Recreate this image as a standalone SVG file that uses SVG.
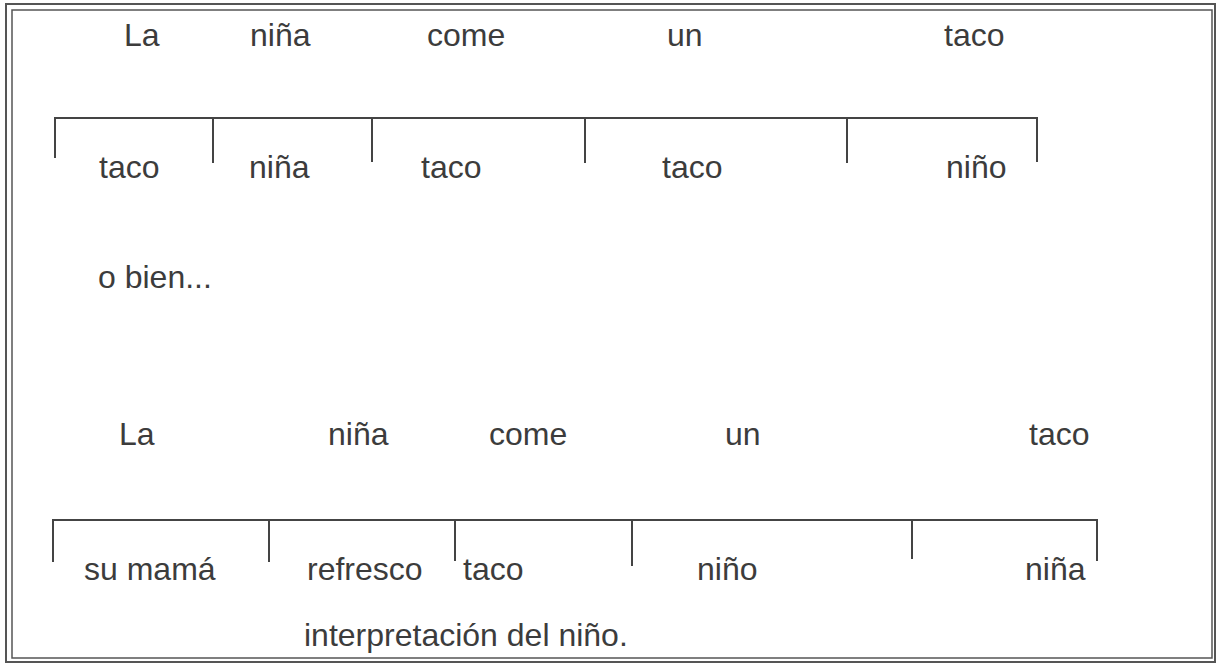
<svg xmlns="http://www.w3.org/2000/svg" width="1217" height="664" viewBox="0 0 1217 664">
<style>
text{font-family:"Liberation Sans",Arial,sans-serif;font-size:32px;fill:#3c3c3c}
.ln{stroke:#444;stroke-width:2;fill:none}
.fr{stroke:#555;fill:none}
</style>
<rect width="1217" height="664" fill="#fff"/>
<g id="frame">
<rect class="fr" x="6" y="4" width="1209" height="658" stroke-width="2"/>
<rect class="fr" x="12" y="10" width="1200" height="648" stroke-width="1.5"/>
</g>
<g id="connectors">
<path class="ln" d="M55,158 V118 H1037 V162 M213,118 V163 M372,118 V162 M585,118 V163 M847,118 V163"/>
<path class="ln" d="M53,562 V520 H1097 V561 M269,520 V562 M455,520 V561 M632,520 V566 M912,520 V559"/>
</g>
<g id="row1">
<text x="124" y="46">La</text>
<text x="250" y="46">niña</text>
<text x="427" y="46">come</text>
<text x="667" y="46">un</text>
<text x="944" y="46">taco</text>
</g>
<g id="row2">
<text x="99" y="178">taco</text>
<text x="249" y="178">niña</text>
<text x="421" y="178">taco</text>
<text x="662" y="178">taco</text>
<text x="946" y="178">niño</text>
</g>
<g id="obien">
<text x="98" y="288">o bien...</text>
</g>
<g id="row3">
<text x="119" y="445">La</text>
<text x="328" y="445">niña</text>
<text x="489" y="445">come</text>
<text x="725" y="445">un</text>
<text x="1029" y="445">taco</text>
</g>
<g id="row4">
<text x="84" y="580">su mamá</text>
<text x="307" y="580">refresco</text>
<text x="463" y="580">taco</text>
<text x="697" y="580">niño</text>
<text x="1025" y="580">niña</text>
</g>
<g id="caption">
<text x="304" y="646">interpretación del niño.</text>
</g>
</svg>
